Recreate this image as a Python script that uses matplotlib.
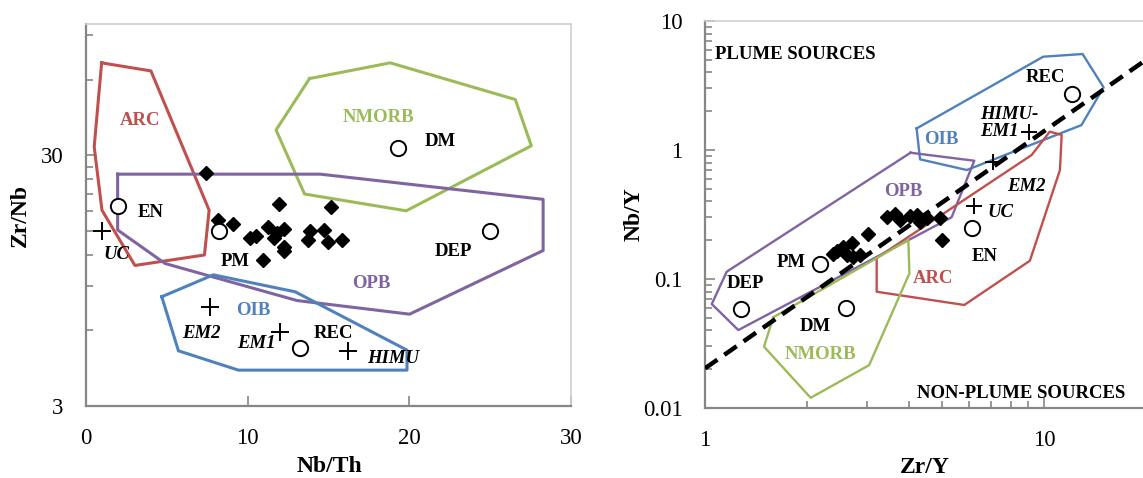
"""Zr/Nb vs Nb/Th and Nb/Y vs Zr/Y source discrimination diagrams."""

import matplotlib

matplotlib.use("Agg")
import matplotlib.pyplot as plt
from matplotlib.ticker import FixedLocator, FuncFormatter, LogLocator, NullFormatter

plt.rcParams["font.family"] = ["Liberation Serif", "DejaVu Serif"]

RED = "#C0504D"
GREEN = "#9BBB59"
PURPLE = "#8064A2"
BLUE = "#4F81BD"

# ---- left panel: Nb/Th vs Zr/Nb ----
arc_l_x = [0.97, 4.02, 7.62, 7.33, 3.03, 0.99, 0.51]
arc_l_y = [70, 65, 18.1, 12.0, 10.9, 18.1, 32.4]
nmorb_l_x = [13.83, 18.82, 26.56, 27.55, 19.81, 13.52, 11.76]
nmorb_l_y = [60.6, 70, 50, 32.7, 18.0, 21.0, 37.8]
opb_l_x = [1.96, 14.49, 28.28, 28.28, 20.02, 13.05, 4.89, 1.96]
opb_l_y = [25.2, 25.2, 20.0, 12.5, 6.97, 7.9, 11.1, 15.1]
oib_l_x = [4.69, 7.88, 12.94, 19.86, 19.86, 9.43, 5.72]
oib_l_y = [8.18, 10.0, 8.56, 5.01, 4.17, 4.17, 4.98]

samples_l_x = [7.43, 8.19, 9.08, 10.15, 10.53, 11.29, 11.97, 11.81, 12.22, 11.64,
               12.22, 12.22, 10.94, 15.15, 13.83, 14.74, 13.76, 15.0, 15.83]
samples_l_y = [25.4, 16.5, 16.0, 14.0, 14.3, 15.5, 19.1, 14.7, 15.2, 14.0,
               12.9, 12.4, 11.5, 18.6, 14.9, 15.1, 13.8, 13.5, 13.8]

reservoirs_l = ["EN", "PM", "DM", "DEP", "REC"]
reservoirs_l_x = [2.0, 8.24, 19.3, 25.0, 13.25]
reservoirs_l_y = [18.8, 14.9, 31.9, 15.0, 5.1]
mantle_l = ["UC", "EM2", "EM1", "HIMU"]
mantle_l_x = [0.97, 7.68, 12.01, 16.2]
mantle_l_y = [14.9, 7.46, 5.93, 4.97]

# ---- right panel: Zr/Y vs Nb/Y ----
oib_r_x = [4.21, 9.95, 13.0, 15.0, 12.9, 5.92, 4.31]
oib_r_y = [1.47, 5.29, 5.55, 3.06, 1.56, 0.70, 0.847]
opb_r_x = [4.04, 6.23, 5.34, 1.254, 1.047, 1.159]
opb_r_y = [0.953, 0.826, 0.301, 0.0402, 0.064, 0.114]
arc_r_x = [3.21, 9.2, 10.4, 11.28, 11.15, 9.09, 5.82, 3.21]
arc_r_y = [0.1455, 0.915, 1.387, 1.31, 0.70, 0.1386, 0.0629, 0.0797]
nmorb_r_x = [1.59, 3.98, 4.01, 3.05, 2.05, 1.493]
nmorb_r_y = [0.0505, 0.2006, 0.1107, 0.0215, 0.0120, 0.0299]
divider_x = [1, 20]
divider_y = [0.0203, 5.0]

samples_r_x = [2.386, 2.452, 2.554, 2.624, 2.714, 2.733, 2.866, 3.026, 3.443,
               3.635, 3.76, 4.025, 4.221, 4.307, 4.518, 4.934, 5.002]
samples_r_y = [0.156, 0.165, 0.177, 0.1535, 0.19, 0.148, 0.1535, 0.223, 0.302,
               0.319, 0.287, 0.308, 0.313, 0.277, 0.297, 0.297, 0.2006]

reservoirs_r = ["REC", "EN", "PM", "DEP", "DM"]
reservoirs_r_x = [12.07, 6.12, 2.18, 1.277, 2.60]
reservoirs_r_y = [2.70, 0.247, 0.130, 0.0585, 0.060]
mantle_r = ["HIMU-EM1", "EM2", "UC"]
mantle_r_x = [9.03, 7.09, 6.23]
mantle_r_y = [1.387, 0.803, 0.370]


def _closed(xs, ys):
    return list(xs) + [xs[0]], list(ys) + [ys[0]]


def _style_frame(ax):
    for side in ("left", "bottom"):
        ax.spines[side].set_color("#868686")
        ax.spines[side].set_linewidth(1.6)
    for side in ("top", "right"):
        ax.spines[side].set_color("#d0d0d0")
        ax.spines[side].set_linewidth(1.2)
    ax.tick_params(which="both", direction="in", color="#868686", width=1.2,
                   labelsize=16.5, pad=16)
    ax.tick_params(which="major", length=7)
    ax.tick_params(which="minor", length=5)
    ax.tick_params(top=False, right=False, which="both")


def _label(ax, x, y, text, color="black", italic=False, **kw):
    ax.text(x, y, text, color=color, fontsize=13.5, fontweight="bold",
            style="italic" if italic else "normal", ha=kw.pop("ha", "center"),
            va=kw.pop("va", "center"), **kw)


fig = plt.figure(figsize=(11.43, 4.78), dpi=100)

# left
ax1 = fig.add_axes([0.0752, 0.1506, 0.4243, 0.7992])
for xs, ys, c in ((arc_l_x, arc_l_y, RED), (nmorb_l_x, nmorb_l_y, GREEN),
                  (opb_l_x, opb_l_y, PURPLE), (oib_l_x, oib_l_y, BLUE)):
    px, py = _closed(xs, ys)
    ax1.plot(px, py, color=c, lw=2.2, zorder=2)
ax1.plot(samples_l_x, samples_l_y, "D", color="black", ms=7.5, zorder=4)
ax1.plot(reservoirs_l_x, reservoirs_l_y, "o", mfc="white", mec="black",
         mew=1.4, ms=11, zorder=5)
ax1.plot(mantle_l_x, mantle_l_y, "+", color="black", mew=1.4, ms=13, zorder=5)

ax1.set_yscale("log")
ax1.set_xlim(0, 30)
ax1.set_ylim(3, 100)
ax1.xaxis.set_major_locator(FixedLocator([0, 10, 20, 30]))
ax1.yaxis.set_major_locator(FixedLocator([3, 30]))
ax1.yaxis.set_minor_locator(FixedLocator([6, 9, 12, 15, 18, 21, 24, 27, 60, 90]))
ax1.yaxis.set_major_formatter(FuncFormatter(lambda v, _: f"{v:g}"))
ax1.yaxis.set_minor_formatter(NullFormatter())
_style_frame(ax1)
ax1.set_xlabel("Nb/Th", fontsize=17, fontweight="bold")
ax1.set_ylabel("Zr/Nb", fontsize=17, fontweight="bold")
ax1.xaxis.set_label_coords(0.503, -0.132)
ax1.yaxis.set_label_coords(-0.113, 0.5)

_label(ax1, 3.34, 41.1, "ARC", RED)
_label(ax1, 18.08, 42.4, "NMORB", GREEN)
_label(ax1, 21.92, 34.1, "DM")
_label(ax1, 4.02, 17.8, "EN")
_label(ax1, 1.90, 12.0, "UC", italic=True)
_label(ax1, 9.22, 11.3, "PM")
_label(ax1, 17.63, 9.25, "OPB", PURPLE)
_label(ax1, 22.74, 12.35, "DEP")
_label(ax1, 10.36, 7.2, "OIB", BLUE)
_label(ax1, 7.16, 5.85, "EM2", italic=True)
_label(ax1, 10.57, 5.33, "EM1", italic=True)
_label(ax1, 15.31, 5.85, "REC")
_label(ax1, 19.03, 4.65, "HIMU", italic=True)

# right
ax2 = fig.add_axes([0.6168, 0.1464, 0.3858, 0.8096])
for xs, ys, c in ((oib_r_x, oib_r_y, BLUE), (opb_r_x, opb_r_y, PURPLE),
                  (arc_r_x, arc_r_y, RED), (nmorb_r_x, nmorb_r_y, GREEN)):
    px, py = _closed(xs, ys)
    ax2.plot(px, py, color=c, lw=1.7, zorder=2)
ax2.plot(divider_x, divider_y, color="black", lw=3.2, dashes=(3.4, 1.9), zorder=3)
ax2.plot(samples_r_x, samples_r_y, "D", color="black", ms=7.2, zorder=4)
ax2.plot(reservoirs_r_x, reservoirs_r_y, "o", mfc="white", mec="black",
         mew=1.4, ms=11, zorder=5)
ax2.plot(mantle_r_x, mantle_r_y, "+", color="black", mew=1.4, ms=11, zorder=5)

ax2.set_xscale("log")
ax2.set_yscale("log")
ax2.set_xlim(1, 20)
ax2.set_ylim(0.01, 10)
for axis in (ax2.xaxis, ax2.yaxis):
    axis.set_major_locator(LogLocator(base=10))
    axis.set_minor_locator(LogLocator(base=10, subs=range(2, 10)))
    axis.set_major_formatter(FuncFormatter(lambda v, _: f"{v:g}"))
    axis.set_minor_formatter(NullFormatter())
_style_frame(ax2)
ax2.spines["right"].set_visible(False)
ax2.set_xlabel("Zr/Y", fontsize=17, fontweight="bold")
ax2.set_ylabel("Nb/Y", fontsize=17, fontweight="bold")
ax2.xaxis.set_label_coords(0.499, -0.127)
ax2.yaxis.set_label_coords(-0.136, 0.5)

_label(ax2, 1.07, 5.55, "PLUME SOURCES", ha="left")
_label(ax2, 8.54, 0.013, "NON-PLUME SOURCES")
_label(ax2, 10.07, 3.66, "REC")
_label(ax2, 6.48, 1.61, "HIMU-\nEM1", italic=True, ha="left", linespacing=1.0)
_label(ax2, 4.99, 1.21, "OIB", BLUE)
_label(ax2, 3.85, 0.475, "OPB", PURPLE)
_label(ax2, 8.89, 0.526, "EM2", italic=True)
_label(ax2, 7.42, 0.327, "UC", italic=True)
_label(ax2, 6.70, 0.149, "EN")
_label(ax2, 4.72, 0.101, "ARC", RED)
_label(ax2, 1.80, 0.1348, "PM")
_label(ax2, 1.312, 0.0926, "DEP")
_label(ax2, 2.11, 0.0427, "DM")
_label(ax2, 2.19, 0.0262, "NMORB", GREEN)

fig.savefig("out.png", dpi=100)
